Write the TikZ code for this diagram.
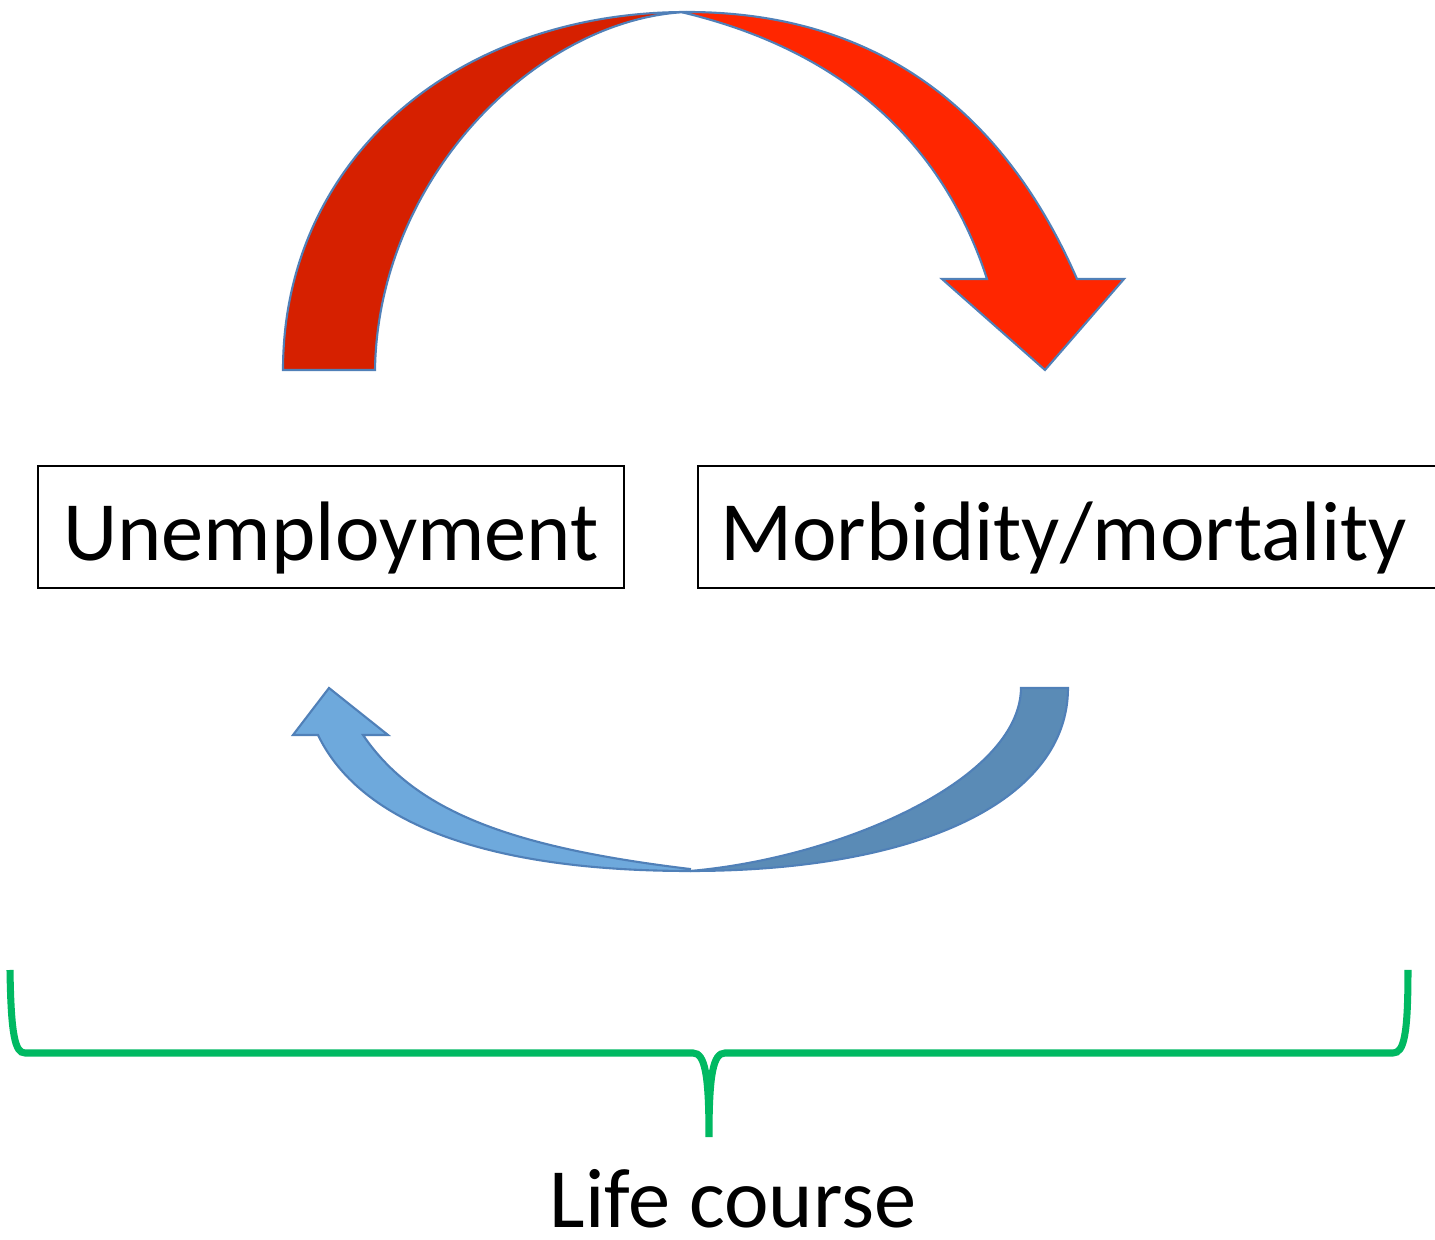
\documentclass[tikz,border=0pt]{standalone}
\usepackage{fontspec}
\setmainfont{Carlito}
\usepackage{tikz}
\usetikzlibrary{positioning}

\definecolor{topback}{HTML}{D62000}
\definecolor{topfront}{HTML}{FF2600}
\definecolor{lowback}{HTML}{5A8BB6}
\definecolor{lowfront}{HTML}{6EA9DC}
\definecolor{bandline}{HTML}{5080B8}
\definecolor{bracegreen}{HTML}{00B962}

\begin{document}
\begin{tikzpicture}[x=0.01cm,y=-0.01cm,
    bigtext/.style={font=\fontsize{24}{29}\selectfont},
    box/.style={draw,line width=0.6pt,bigtext,inner xsep=0.22cm,inner ysep=0pt,
        text height=0.94cm,text depth=0.28cm},
    band/.style={draw=bandline,line width=0.6pt},
    brace/.style={draw=bracegreen,line width=2pt}]
    \useasboundingbox (0,0) rectangle (1435,1240);

    % Boxes
    \node[box,minimum width=5.86cm] (unemp) at (331,527) {Unemployment};
    \node[box,text width=7.2cm,align=left,right=0.72cm of unemp] (morb) {Morbidity/mortality};

    % Upper arrow, back half then front half with the head
    \path[band,fill=topback] (283,370) .. controls (283,160) and (455,12) .. (687,12)
        .. controls (540,18) and (378,175) .. (375,370) -- cycle;
    \path[band,fill=topfront] (687,12) .. controls (907,12) and (1018,144) .. (1077,279)
        -- (1124,279) -- (1045,370) -- (942,279) -- (987,279)
        .. controls (947,156) and (857,55) .. (685,13) -- cycle;

    % Lower arrow
    \path[band,fill=lowback] (1068,688) .. controls (1068,800) and (920,871) .. (690,871)
        .. controls (840,858) and (1020,780) .. (1021,688) -- cycle;
    \path[band,fill=lowfront] (690,871) .. controls (460,871) and (354,810) .. (318,735)
        -- (293,735) -- (329,688) -- (388,735) -- (363,735)
        .. controls (414,810) and (507,847) .. (690,869) -- cycle;

    % Brace
    \draw[brace] (10,970) .. controls (11,1035) and (15,1053) .. (25,1053) -- (693,1053)
        .. controls (705,1053) and (709,1075) .. (709,1137)
        .. controls (709,1075) and (713,1053) .. (725,1053) -- (1393,1053)
        .. controls (1404,1053) and (1408,1035) .. (1408,970);
    \node[bigtext,anchor=base,inner sep=0pt] (life) at (733,1228) {Life course};
\end{tikzpicture}
\end{document}
